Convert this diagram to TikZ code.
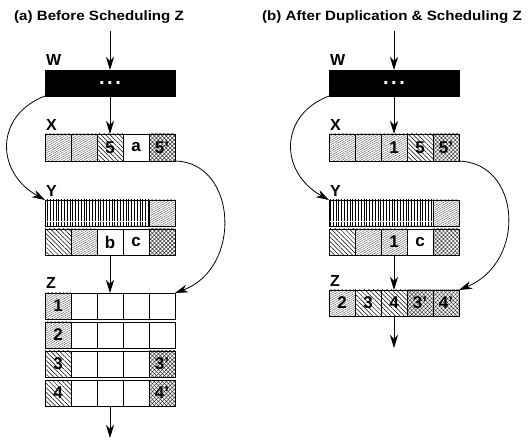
\documentclass[tikz,border=0pt]{standalone}
\usepackage{fontspec}
\setmainfont{Liberation Sans}
\newfontfamily\headfont[FakeStretch=1.12]{Liberation Sans}
\usetikzlibrary{patterns.meta,arrows.meta}

\tikzset{
  cell/.style={draw, line width=0.8pt, minimum width=26pt, minimum height=26pt,
    inner sep=0pt, outer sep=0pt, font=\fontsize{17}{17}\selectfont\bfseries},
  blank/.style={cell, fill=white},
  pne/.style={cell, pattern={Lines[angle=30,distance=1.9pt,line width=0.35pt]}, pattern color=black!70},
  pnw/.style={cell, pattern={Lines[angle=-45,distance=3.2pt,line width=0.5pt]}, pattern color=black},
  pxh/.style={cell, pattern={Hatch[angle=45,distance=2.8pt,line width=0.5pt]}, pattern color=black!80},
  pvl/.style={cell, pattern={Lines[angle=90,distance=2.8pt,line width=0.7pt]}, pattern color=black},
  wbox/.style={cell, fill=black, minimum width=130pt, text=white, font=\fontsize{20}{20}\selectfont\bfseries},
  lbl/.style={anchor=base west, inner sep=0pt, font=\fontsize{16}{16}\selectfont\bfseries},
  head/.style={anchor=west, inner sep=0pt, font=\headfont\fontsize{13.5}{14}\selectfont\bfseries},
  flow/.style={line width=0.8pt, -{Stealth[length=13pt,width=8pt,inset=4pt]}},
  gap/.style={white, line width=0.8pt}
}

\begin{document}
\begin{tikzpicture}[x=1pt, y=-1pt]
\fill[white] (0,0) rectangle (531,441);
\useasboundingbox (0,0) rectangle (531,441);

% ---------------- (a) before scheduling Z ----------------
\node[head] (aT) at (14,17) {(a) Before Scheduling Z};
\coordinate (aIn) at (110,31);
\node[wbox] (aW) at (110,83) {.\hspace{2.5pt}.\hspace{2.5pt}.};
\node[lbl] (aWl) at (46,66) {W};

\node[lbl] (aXl) at (46,131) {X};
\node[pne, minimum height=27pt] (aX1) at (58,147.5) {};
\node[pne, minimum height=27pt] (aX2) at (84,147.5) {};
\node[pnw, minimum height=27pt] (aX3) at (110,147.5) {5};
\node[blank, minimum height=27pt] (aX4) at (136,147.5) {a};
\node[pxh, minimum height=27pt] (aX5) at (162,147.5) {5'};

\node[lbl] (aYl) at (46,197) {Y};
\node[pvl, minimum width=104pt] (aYt) at (97,213) {};
\node[pne] (aYt2) at (162,213) {};
\draw[gap] ([shift={(0.8,-5)}]aYt.south west) -- ([shift={(-0.8,-5)}]aYt.south east);
\node[pnw] (aYb1) at (58,242) {};
\node[pne] (aYb2) at (84,242) {};
\node[blank] (aYb3) at (110,242) {b};
\node[blank] (aYb4) at (136,242) {c};
\node[pxh] (aYb5) at (162,242) {};

\node[lbl] (aZl) at (46,289) {Z};
\node[pne] (aZ11) at (58,306) {1};
\node[blank] (aZ12) at (84,306) {};
\node[blank] (aZ13) at (110,306) {};
\node[blank] (aZ14) at (136,306) {};
\node[blank] (aZ15) at (162,306) {};
\node[pne] (aZ21) at (58,335) {2};
\node[blank] (aZ22) at (84,335) {};
\node[blank] (aZ23) at (110,335) {};
\node[blank] (aZ24) at (136,335) {};
\node[blank] (aZ25) at (162,335) {};
\node[pnw] (aZ31) at (58,364) {3};
\node[blank] (aZ32) at (84,364) {};
\node[blank] (aZ33) at (110,364) {};
\node[blank] (aZ34) at (136,364) {};
\node[pxh] (aZ35) at (162,364) {3'};
\node[pnw] (aZ41) at (58,393) {4};
\node[blank] (aZ42) at (84,393) {};
\node[blank] (aZ43) at (110,393) {};
\node[blank] (aZ44) at (136,393) {};
\node[pxh] (aZ45) at (162,393) {4'};
\coordinate (aOut) at (110,438);

\draw[flow] (aIn) -- (aW);
\draw[flow] (aW) -- (aX3);
\draw[flow] (aYb3) -- (aZ13);
\draw[flow] (aZ43) -- (aOut);
\draw[flow] (aW.south west) .. controls +(-50,19) and +(-50,-28) .. (aYt.north west);
\draw[flow] (aX5.south east) .. controls +(62,1) and +(68,-25) .. (aZ15.north east);

% ---------------- (b) after duplication & scheduling Z ----------------
\node[head] (bT) at (262,17) {(b) After Duplication \& Scheduling Z};
\coordinate (bIn) at (394,31);
\node[wbox] (bW) at (394,83) {.\hspace{2.5pt}.\hspace{2.5pt}.};
\node[lbl] (bWl) at (330,66) {W};

\node[lbl] (bXl) at (330,131) {X};
\node[pne, minimum height=27pt] (bX1) at (342,147.5) {};
\node[pne, minimum height=27pt] (bX2) at (368,147.5) {};
\node[pne, minimum height=27pt] (bX3) at (394,147.5) {1};
\node[pnw, minimum height=27pt] (bX4) at (420,147.5) {5};
\node[pxh, minimum height=27pt] (bX5) at (446,147.5) {5'};

\node[lbl] (bYl) at (330,197) {Y};
\node[pvl, minimum width=104pt] (bYt) at (381,213) {};
\node[pne] (bYt2) at (446,213) {};
\draw[gap] ([shift={(0.8,-5)}]bYt.south west) -- ([shift={(-0.8,-5)}]bYt.south east);
\node[pnw] (bYb1) at (342,242) {};
\node[pne] (bYb2) at (368,242) {};
\node[pne] (bYb3) at (394,242) {1};
\node[blank] (bYb4) at (420,242) {c};
\node[pxh] (bYb5) at (446,242) {};

\node[lbl] (bZl) at (330,287) {Z};
\node[pne] (bZ1) at (342,303) {2};
\node[pnw] (bZ2) at (368,303) {3};
\node[pnw] (bZ3) at (394,303) {4};
\node[pxh] (bZ4) at (420,303) {3'};
\node[pxh] (bZ5) at (446,303) {4'};
\coordinate (bOut) at (394,348);

\draw[flow] (bIn) -- (bW);
\draw[flow] (bW) -- (bX3);
\draw[flow] (bYb3) -- (bZ3);
\draw[flow] (bZ3) -- (bOut);
\draw[flow] (bW.south west) .. controls +(-50,19) and +(-50,-28) .. (bYt.north west);
\draw[flow] (bX5.south east) .. controls +(62,2) and +(68,-28) .. (bZ5.north east);
\end{tikzpicture}
\end{document}
